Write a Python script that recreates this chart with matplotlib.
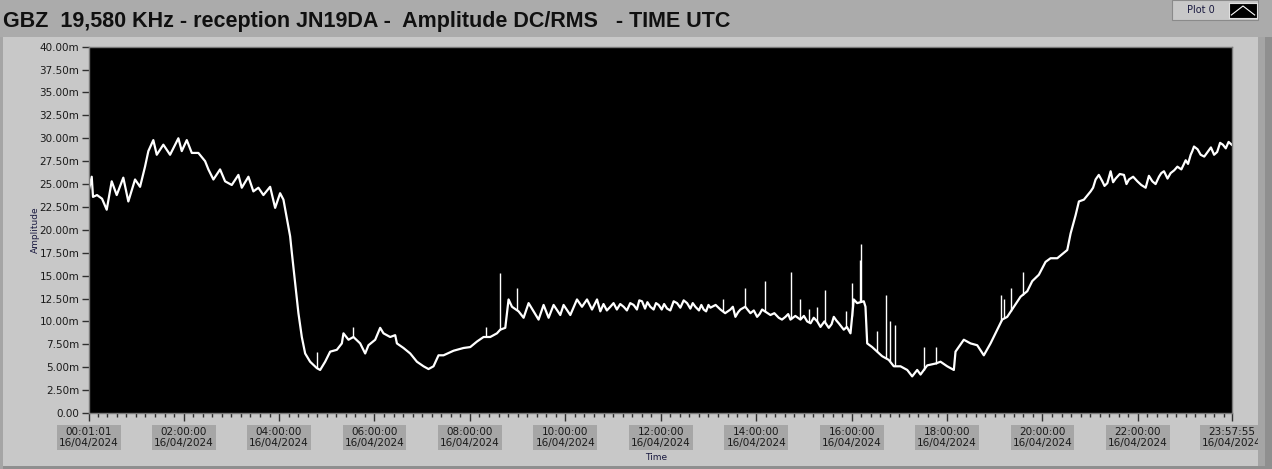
import matplotlib
matplotlib.use('Agg')
import matplotlib.pyplot as plt
from matplotlib.patches import Rectangle
import numpy as np

# time in hours (UTC), amplitude in mV
time_h = [0.017, 0.074, 0.101, 0.185, 0.290, 0.388, 0.493, 0.598, 0.736, 0.841,
          0.982, 1.087, 1.191, 1.261, 1.365, 1.437, 1.575, 1.716, 1.890, 1.961,
          2.066, 2.171, 2.309, 2.450, 2.519, 2.624, 2.764, 2.869, 3.009, 3.148,
          3.219, 3.358, 3.462, 3.567, 3.672, 3.813, 3.918, 4.022, 4.092, 4.163,
          4.232, 4.268, 4.337, 4.406, 4.477, 4.547, 4.651, 4.792, 4.861, 4.966,
          5.071, 5.211, 5.316, 5.350, 5.455, 5.559, 5.700, 5.805, 5.874, 6.015,
          6.119, 6.189, 6.329, 6.434, 6.470, 6.608, 6.749, 6.889, 7.028, 7.132,
          7.237, 7.342, 7.447, 7.657, 7.866, 8.007, 8.147, 8.286, 8.426, 8.567,
          8.636, 8.741, 8.810, 8.882, 9.020, 9.125, 9.230, 9.334, 9.439, 9.544,
          9.649, 9.754, 9.894, 9.963, 10.104, 10.244, 10.349, 10.454, 10.559, 10.664,
          10.733, 10.80, 10.87, 10.943, 11.01, 11.08, 11.15, 11.222, 11.29, 11.36,
          11.431, 11.50, 11.55, 11.607, 11.67, 11.72, 11.781, 11.85, 11.90, 11.956,
          12.02, 12.07, 12.132, 12.20, 12.27, 12.341, 12.41, 12.48, 12.551, 12.62,
          12.67, 12.725, 12.80, 12.85, 12.899, 12.95, 13.00, 13.040, 13.15, 13.250,
          13.35, 13.459, 13.51, 13.564, 13.62, 13.669, 13.77, 13.879, 13.95, 14.019,
          14.07, 14.124, 14.21, 14.298, 14.38, 14.472, 14.54, 14.613, 14.67, 14.718,
          14.82, 14.927, 15.00, 15.068, 15.14, 15.206, 15.28, 15.347, 15.43, 15.521,
          15.58, 15.626, 15.68, 15.730, 15.835, 15.90, 15.976, 16.045, 16.116, 16.255,
          16.290, 16.326, 16.430, 16.640,
          16.778, 16.884, 17.024, 17.165, 17.269, 17.374, 17.444, 17.584, 17.758, 17.863,
          18.003, 18.142, 18.177, 18.351, 18.492, 18.632, 18.770, 18.911, 19.051, 19.156,
          19.261, 19.400, 19.540, 19.681, 19.785, 19.924, 20.064, 20.169, 20.310, 20.448,
          20.519, 20.589, 20.694, 20.763, 20.868, 21.009, 21.06, 21.113, 21.18, 21.254,
          21.30, 21.359, 21.428, 21.48, 21.533, 21.62, 21.707, 21.76, 21.812, 21.90,
          21.988, 22.07, 22.162, 22.23, 22.302, 22.37, 22.441, 22.49, 22.546, 22.62,
          22.686, 22.76, 22.827, 22.91, 23.001, 23.05, 23.106, 23.14, 23.175, 23.25,
          23.315, 23.39, 23.473, 23.53, 23.596, 23.66, 23.722, 23.78, 23.841, 23.90,
          23.965]
amp_mv = [24.4, 25.8, 23.6, 23.8, 23.4, 22.2, 25.3, 23.8, 25.7, 23.1,
          25.5, 24.7, 26.9, 28.6, 29.8, 28.2, 29.3, 28.2, 30.0, 28.6,
          29.8, 28.4, 28.4, 27.5, 26.6, 25.5, 26.6, 25.3, 24.9, 26.0,
          24.6, 25.8, 24.2, 24.6, 23.8, 24.7, 22.4, 24.0, 23.3, 21.3,
          19.3, 17.5, 14.2, 10.9, 8.3, 6.5, 5.6, 4.9, 4.7, 5.6,
          6.7, 6.9, 7.6, 8.7, 8.0, 8.3, 7.6, 6.5, 7.4, 8.0,
          9.3, 8.7, 8.3, 8.5, 7.6, 7.1, 6.5, 5.6, 5.1, 4.8,
          5.1, 6.3, 6.3, 6.8, 7.1, 7.2, 7.8, 8.3, 8.3, 8.7,
          9.1, 9.3, 12.4, 11.6, 11.1, 10.4, 12.0, 11.1, 10.2, 11.8,
          10.4, 11.8, 10.7, 11.8, 10.7, 12.4, 11.6, 12.4, 11.3, 12.4,
          11.1, 11.9, 11.2, 11.6, 12.0, 11.3, 11.9, 11.6, 11.2, 12.0,
          11.8, 11.3, 12.3, 12.2, 11.4, 12.1, 11.6, 11.3, 12.0, 11.8,
          11.3, 11.9, 11.4, 11.2, 12.2, 12.0, 11.5, 12.3, 12.0, 11.4,
          12.0, 11.6, 11.2, 11.8, 11.3, 11.1, 11.8, 11.5, 11.8, 11.3,
          10.9, 11.3, 11.6, 10.5, 11.0, 11.3, 11.6, 10.9, 11.2, 10.5,
          10.8, 11.3, 11.0, 10.7, 10.9, 10.4, 10.2, 10.5, 10.8, 10.2,
          10.6, 10.2, 10.6, 10.0, 9.8, 10.4, 10.0, 9.4, 10.0, 9.3,
          9.7, 10.5, 10.1, 9.8, 9.1, 9.4, 8.7, 12.4, 12.0, 12.2,
          11.6, 7.6, 7.2, 6.2,
          5.8, 5.1, 5.1, 4.7, 4.0, 4.7, 4.2, 5.2, 5.4, 5.6,
          5.1, 4.7, 6.7, 8.0, 7.6, 7.4, 6.3, 7.6, 9.1, 10.2,
          10.5, 11.6, 12.7, 13.3, 14.4, 15.1, 16.5, 16.9, 16.9, 17.5,
          17.8, 19.6, 21.6, 23.1, 23.3, 24.2, 24.6, 25.5, 26.0, 25.3,
          24.8, 25.1, 26.4, 25.2, 25.6, 26.1, 26.0, 25.0, 25.5, 25.8,
          25.3, 24.9, 24.6, 25.9, 25.3, 25.0, 25.8, 26.2, 26.4, 25.6,
          26.2, 26.5, 26.9, 26.6, 27.6, 27.2, 28.2, 28.6, 29.1, 28.8,
          28.2, 28.0, 28.6, 29.0, 28.2, 28.5, 29.5, 29.3, 28.9, 29.6,
          29.3]

# isolated spikes (time, peak value)
spike_h = [4.792, 5.547, 8.336, 8.636, 8.986, 13.298, 13.774, 14.193, 14.732, 14.913,
           15.101, 15.277, 15.437, 15.892, 16.011, 16.165, 16.200, 16.536, 16.710, 16.800,
           16.905, 17.513, 17.758, 19.140, 19.200, 19.346, 19.589]
spike_mv = [6.7, 9.4, 9.4, 15.3, 13.6, 12.5, 13.6, 14.4, 15.4, 12.5,
            11.4, 11.6, 13.4, 11.1, 14.2, 16.7, 18.5, 8.9, 12.9, 10.0,
            9.6, 7.2, 7.2, 12.9, 12.5, 13.6, 15.4]

x_ticks = [0.01694, 2, 4, 6, 8, 10, 12, 14, 16, 18, 20, 22, 23.9653]
x_labels = ['00:01:01', '02:00:00', '04:00:00', '06:00:00', '08:00:00', '10:00:00',
            '12:00:00', '14:00:00', '16:00:00', '18:00:00', '20:00:00', '22:00:00',
            '23:57:55']
date_label = '16/04/2024'
y_ticks = [0, 2.5, 5, 7.5, 10, 12.5, 15, 17.5, 20, 22.5, 25, 27.5, 30, 32.5, 35, 37.5, 40]
y_labels = ['0.00'] + ['%.2fm' % v for v in y_ticks[1:]]

W, H = 1272, 469
fig = plt.figure(figsize=(W / 100, H / 100), dpi=100)
fig.patch.set_facecolor('#c8c8c8')

# top band and frame strips
fig.patches.append(Rectangle((0, 1 - 37 / H), 1, 37 / H, transform=fig.transFigure,
                             facecolor='#ababab', edgecolor='none', zorder=0))
fig.patches.append(Rectangle((1258 / W, 0), 7 / W, 1 - 37 / H, transform=fig.transFigure,
                             facecolor='#a5a5a5', edgecolor='none', zorder=0))
fig.patches.append(Rectangle((1265 / W, 0), 7 / W, 1 - 37 / H, transform=fig.transFigure,
                             facecolor='#8f8f8f', edgecolor='none', zorder=0))
fig.patches.append(Rectangle((0, 0), 1, 3 / H, transform=fig.transFigure,
                             facecolor='#8f8f8f', edgecolor='none', zorder=0))
fig.patches.append(Rectangle((0, 0), 3 / W, 1 - 37 / H, transform=fig.transFigure,
                             facecolor='#a5a5a5', edgecolor='none', zorder=0))

fig.text(3 / W, 1 - 22 / H, 'GBZ  19,580 KHz - reception JN19DA -  Amplitude DC/RMS   - TIME UTC',
         fontsize=15.5, fontweight='bold', family='Liberation Sans', color='#101010',
         ha='left', va='center')

# "Plot 0" legend box
fig.patches.append(Rectangle((1172 / W, 1 - 20 / H), 86 / W, 20 / H, transform=fig.transFigure,
                             facecolor='#c8c8c8', edgecolor='#8a8a8a', linewidth=0.8, zorder=1))
fig.text(1201 / W, 1 - 10 / H, 'Plot 0', fontsize=7, color='#1a1a40', ha='center', va='center')
icon = fig.add_axes([1229 / W, 1 - 18 / H, 28 / W, 15 / H], zorder=5)
icon.set_facecolor('black')
icon.plot([0, 1, 2], [0.2, 0.8, 0.2], color='white', lw=0.8)
icon.set_xlim(-0.2, 2.2)
icon.set_ylim(0, 1)
icon.set_xticks([])
icon.set_yticks([])
for s in icon.spines.values():
    s.set_color('#e0e0e0')
    s.set_linewidth(0.8)

ax = fig.add_axes([89 / W, (H - 413) / H, (1231.7 - 89) / W, (413 - 46.7) / H])
ax.set_facecolor('black')
ax.plot(time_h, amp_mv, color='white', lw=1.6)
base = np.interp(spike_h, time_h, amp_mv)
ax.vlines(spike_h, base, spike_mv, color='white', lw=1.0)

ax.set_xlim(x_ticks[0], x_ticks[-1])
ax.set_ylim(0, 40)
ax.set_yticks(y_ticks)
ax.set_yticklabels(y_labels, fontsize=7.5, color='#1a1a1a')
ax.set_xticks(x_ticks)
ax.set_xticklabels([t + '\n' + date_label for t in x_labels], fontsize=7.5, color='#1a1a1a',
                   linespacing=1.15)
for lab in ax.get_xticklabels():
    lab.set_bbox(dict(facecolor='#a6a6a6', edgecolor='none', pad=1.5))
ax.set_xticks(np.arange(0.2, 23.9, 0.2), minor=True)
ax.tick_params(axis='x', which='major', length=6, width=1, color='#303030', pad=4)
ax.tick_params(axis='x', which='minor', length=3, width=1, color='#303030')
ax.tick_params(axis='y', which='major', length=5, width=1, color='#303030', pad=2)
for s in ax.spines.values():
    s.set_color('#7a7a7a')
    s.set_linewidth(1)

fig.text(35 / W, (H - 230) / H, 'Amplitude', rotation=90, fontsize=6.5, color='#1a1a40',
         ha='center', va='center')
fig.text(656 / W, (H - 457) / H, 'Time', fontsize=6.5, color='#1a1a40',
         ha='center', va='center')

fig.savefig('out.png', dpi=100, facecolor=fig.get_facecolor())
